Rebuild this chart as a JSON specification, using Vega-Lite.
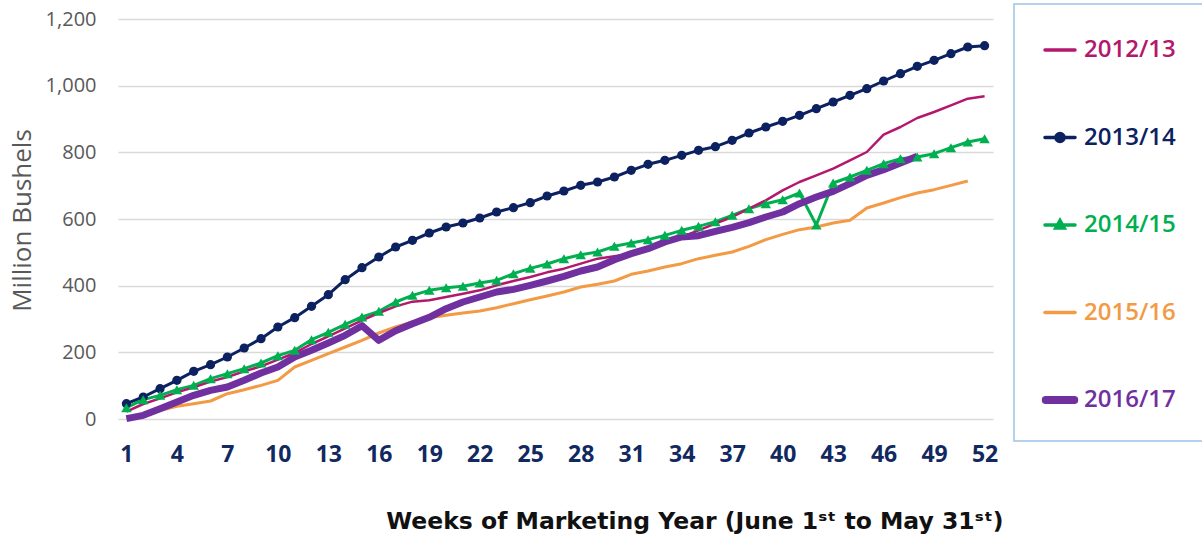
{
  "$schema": "https://vega.github.io/schema/vega-lite/v6.json",
  "width": 875,
  "height": 400,
  "autosize": {"type": "none"},
  "padding": {"left": 118, "top": 19, "right": 209, "bottom": 120},
  "background": "white",
  "config": {"view": {"stroke": null}},
  "datasets": {
    "exports": [
      {"w":1,"s":"2012/13","v":22},{"w":2,"s":"2012/13","v":45},{"w":3,"s":"2012/13","v":62},{"w":4,"s":"2012/13","v":80},{"w":5,"s":"2012/13","v":95},{"w":6,"s":"2012/13","v":112},{"w":7,"s":"2012/13","v":126},{"w":8,"s":"2012/13","v":143},{"w":9,"s":"2012/13","v":158},{"w":10,"s":"2012/13","v":178},{"w":11,"s":"2012/13","v":198},{"w":12,"s":"2012/13","v":225},{"w":13,"s":"2012/13","v":248},{"w":14,"s":"2012/13","v":272},{"w":15,"s":"2012/13","v":296},{"w":16,"s":"2012/13","v":318},{"w":17,"s":"2012/13","v":338},{"w":18,"s":"2012/13","v":352},{"w":19,"s":"2012/13","v":356},{"w":20,"s":"2012/13","v":366},{"w":21,"s":"2012/13","v":376},{"w":22,"s":"2012/13","v":386},{"w":23,"s":"2012/13","v":401},{"w":24,"s":"2012/13","v":414},{"w":25,"s":"2012/13","v":426},{"w":26,"s":"2012/13","v":440},{"w":27,"s":"2012/13","v":451},{"w":28,"s":"2012/13","v":466},{"w":29,"s":"2012/13","v":481},{"w":30,"s":"2012/13","v":488},{"w":31,"s":"2012/13","v":496},{"w":32,"s":"2012/13","v":512},{"w":33,"s":"2012/13","v":528},{"w":34,"s":"2012/13","v":546},{"w":35,"s":"2012/13","v":566},{"w":36,"s":"2012/13","v":586},{"w":37,"s":"2012/13","v":606},{"w":38,"s":"2012/13","v":631},{"w":39,"s":"2012/13","v":656},{"w":40,"s":"2012/13","v":686},{"w":41,"s":"2012/13","v":711},{"w":42,"s":"2012/13","v":731},{"w":43,"s":"2012/13","v":751},{"w":44,"s":"2012/13","v":776},{"w":45,"s":"2012/13","v":801},{"w":46,"s":"2012/13","v":853},{"w":47,"s":"2012/13","v":876},{"w":48,"s":"2012/13","v":903},{"w":49,"s":"2012/13","v":921},{"w":50,"s":"2012/13","v":941},{"w":51,"s":"2012/13","v":961},{"w":52,"s":"2012/13","v":968},
      {"w":1,"s":"2013/14","v":46},{"w":2,"s":"2013/14","v":66},{"w":3,"s":"2013/14","v":91},{"w":4,"s":"2013/14","v":116},{"w":5,"s":"2013/14","v":143},{"w":6,"s":"2013/14","v":163},{"w":7,"s":"2013/14","v":186},{"w":8,"s":"2013/14","v":213},{"w":9,"s":"2013/14","v":241},{"w":10,"s":"2013/14","v":276},{"w":11,"s":"2013/14","v":304},{"w":12,"s":"2013/14","v":338},{"w":13,"s":"2013/14","v":373},{"w":14,"s":"2013/14","v":418},{"w":15,"s":"2013/14","v":454},{"w":16,"s":"2013/14","v":486},{"w":17,"s":"2013/14","v":516},{"w":18,"s":"2013/14","v":536},{"w":19,"s":"2013/14","v":558},{"w":20,"s":"2013/14","v":576},{"w":21,"s":"2013/14","v":588},{"w":22,"s":"2013/14","v":603},{"w":23,"s":"2013/14","v":621},{"w":24,"s":"2013/14","v":634},{"w":25,"s":"2013/14","v":649},{"w":26,"s":"2013/14","v":669},{"w":27,"s":"2013/14","v":684},{"w":28,"s":"2013/14","v":701},{"w":29,"s":"2013/14","v":711},{"w":30,"s":"2013/14","v":726},{"w":31,"s":"2013/14","v":746},{"w":32,"s":"2013/14","v":764},{"w":33,"s":"2013/14","v":776},{"w":34,"s":"2013/14","v":791},{"w":35,"s":"2013/14","v":806},{"w":36,"s":"2013/14","v":817},{"w":37,"s":"2013/14","v":836},{"w":38,"s":"2013/14","v":858},{"w":39,"s":"2013/14","v":876},{"w":40,"s":"2013/14","v":893},{"w":41,"s":"2013/14","v":911},{"w":42,"s":"2013/14","v":931},{"w":43,"s":"2013/14","v":951},{"w":44,"s":"2013/14","v":971},{"w":45,"s":"2013/14","v":991},{"w":46,"s":"2013/14","v":1014},{"w":47,"s":"2013/14","v":1036},{"w":48,"s":"2013/14","v":1058},{"w":49,"s":"2013/14","v":1076},{"w":50,"s":"2013/14","v":1096},{"w":51,"s":"2013/14","v":1116},{"w":52,"s":"2013/14","v":1120},
      {"w":1,"s":"2014/15","v":34},{"w":2,"s":"2014/15","v":58},{"w":3,"s":"2014/15","v":71},{"w":4,"s":"2014/15","v":88},{"w":5,"s":"2014/15","v":101},{"w":6,"s":"2014/15","v":121},{"w":7,"s":"2014/15","v":136},{"w":8,"s":"2014/15","v":151},{"w":9,"s":"2014/15","v":168},{"w":10,"s":"2014/15","v":190},{"w":11,"s":"2014/15","v":206},{"w":12,"s":"2014/15","v":238},{"w":13,"s":"2014/15","v":260},{"w":14,"s":"2014/15","v":284},{"w":15,"s":"2014/15","v":306},{"w":16,"s":"2014/15","v":323},{"w":17,"s":"2014/15","v":351},{"w":18,"s":"2014/15","v":371},{"w":19,"s":"2014/15","v":386},{"w":20,"s":"2014/15","v":394},{"w":21,"s":"2014/15","v":398},{"w":22,"s":"2014/15","v":408},{"w":23,"s":"2014/15","v":416},{"w":24,"s":"2014/15","v":436},{"w":25,"s":"2014/15","v":452},{"w":26,"s":"2014/15","v":465},{"w":27,"s":"2014/15","v":481},{"w":28,"s":"2014/15","v":493},{"w":29,"s":"2014/15","v":501},{"w":30,"s":"2014/15","v":518},{"w":31,"s":"2014/15","v":528},{"w":32,"s":"2014/15","v":538},{"w":33,"s":"2014/15","v":551},{"w":34,"s":"2014/15","v":566},{"w":35,"s":"2014/15","v":578},{"w":36,"s":"2014/15","v":592},{"w":37,"s":"2014/15","v":611},{"w":38,"s":"2014/15","v":631},{"w":39,"s":"2014/15","v":646},{"w":40,"s":"2014/15","v":658},{"w":41,"s":"2014/15","v":678},{"w":42,"s":"2014/15","v":582},{"w":43,"s":"2014/15","v":708},{"w":44,"s":"2014/15","v":726},{"w":45,"s":"2014/15","v":746},{"w":46,"s":"2014/15","v":766},{"w":47,"s":"2014/15","v":781},{"w":48,"s":"2014/15","v":786},{"w":49,"s":"2014/15","v":796},{"w":50,"s":"2014/15","v":814},{"w":51,"s":"2014/15","v":831},{"w":52,"s":"2014/15","v":841},
      {"w":1,"s":"2015/16","v":5},{"w":2,"s":"2015/16","v":11},{"w":3,"s":"2015/16","v":25},{"w":4,"s":"2015/16","v":38},{"w":5,"s":"2015/16","v":46},{"w":6,"s":"2015/16","v":54},{"w":7,"s":"2015/16","v":76},{"w":8,"s":"2015/16","v":88},{"w":9,"s":"2015/16","v":101},{"w":10,"s":"2015/16","v":116},{"w":11,"s":"2015/16","v":156},{"w":12,"s":"2015/16","v":176},{"w":13,"s":"2015/16","v":196},{"w":14,"s":"2015/16","v":216},{"w":15,"s":"2015/16","v":236},{"w":16,"s":"2015/16","v":258},{"w":17,"s":"2015/16","v":276},{"w":18,"s":"2015/16","v":291},{"w":19,"s":"2015/16","v":304},{"w":20,"s":"2015/16","v":311},{"w":21,"s":"2015/16","v":318},{"w":22,"s":"2015/16","v":324},{"w":23,"s":"2015/16","v":334},{"w":24,"s":"2015/16","v":346},{"w":25,"s":"2015/16","v":358},{"w":26,"s":"2015/16","v":369},{"w":27,"s":"2015/16","v":381},{"w":28,"s":"2015/16","v":396},{"w":29,"s":"2015/16","v":404},{"w":30,"s":"2015/16","v":414},{"w":31,"s":"2015/16","v":434},{"w":32,"s":"2015/16","v":444},{"w":33,"s":"2015/16","v":456},{"w":34,"s":"2015/16","v":466},{"w":35,"s":"2015/16","v":481},{"w":36,"s":"2015/16","v":491},{"w":37,"s":"2015/16","v":501},{"w":38,"s":"2015/16","v":518},{"w":39,"s":"2015/16","v":538},{"w":40,"s":"2015/16","v":554},{"w":41,"s":"2015/16","v":568},{"w":42,"s":"2015/16","v":576},{"w":43,"s":"2015/16","v":588},{"w":44,"s":"2015/16","v":596},{"w":45,"s":"2015/16","v":633},{"w":46,"s":"2015/16","v":648},{"w":47,"s":"2015/16","v":664},{"w":48,"s":"2015/16","v":678},{"w":49,"s":"2015/16","v":688},{"w":50,"s":"2015/16","v":701},{"w":51,"s":"2015/16","v":714},
      {"w":1,"s":"2016/17","v":1},{"w":2,"s":"2016/17","v":11},{"w":3,"s":"2016/17","v":31},{"w":4,"s":"2016/17","v":51},{"w":5,"s":"2016/17","v":71},{"w":6,"s":"2016/17","v":86},{"w":7,"s":"2016/17","v":96},{"w":8,"s":"2016/17","v":116},{"w":9,"s":"2016/17","v":138},{"w":10,"s":"2016/17","v":156},{"w":11,"s":"2016/17","v":186},{"w":12,"s":"2016/17","v":206},{"w":13,"s":"2016/17","v":228},{"w":14,"s":"2016/17","v":251},{"w":15,"s":"2016/17","v":280},{"w":16,"s":"2016/17","v":236},{"w":17,"s":"2016/17","v":265},{"w":18,"s":"2016/17","v":286},{"w":19,"s":"2016/17","v":305},{"w":20,"s":"2016/17","v":331},{"w":21,"s":"2016/17","v":351},{"w":22,"s":"2016/17","v":366},{"w":23,"s":"2016/17","v":381},{"w":24,"s":"2016/17","v":389},{"w":25,"s":"2016/17","v":401},{"w":26,"s":"2016/17","v":414},{"w":27,"s":"2016/17","v":428},{"w":28,"s":"2016/17","v":444},{"w":29,"s":"2016/17","v":456},{"w":30,"s":"2016/17","v":478},{"w":31,"s":"2016/17","v":496},{"w":32,"s":"2016/17","v":511},{"w":33,"s":"2016/17","v":531},{"w":34,"s":"2016/17","v":546},{"w":35,"s":"2016/17","v":550},{"w":36,"s":"2016/17","v":563},{"w":37,"s":"2016/17","v":575},{"w":38,"s":"2016/17","v":589},{"w":39,"s":"2016/17","v":606},{"w":40,"s":"2016/17","v":621},{"w":41,"s":"2016/17","v":646},{"w":42,"s":"2016/17","v":666},{"w":43,"s":"2016/17","v":683},{"w":44,"s":"2016/17","v":706},{"w":45,"s":"2016/17","v":731},{"w":46,"s":"2016/17","v":748},{"w":47,"s":"2016/17","v":768},{"w":48,"s":"2016/17","v":788}
    ]
  },
  "data": {"name": "exports"},
  "encoding": {
    "x": {
      "field": "w", "type": "quantitative",
      "scale": {"domain": [0.5, 52.5], "nice": false, "zero": false},
      "axis": {
        "values": [1,4,7,10,13,16,19,22,25,28,31,34,37,40,43,46,49,52],
        "grid": false, "domain": false, "ticks": false,
        "labelFont": "Open Sans", "labelFontSize": 23, "labelFontWeight": "bold",
        "labelColor": "#12295F", "labelPadding": 24,
        "title": "Weeks of Marketing Year (June 1ˢᵗ to May 31ˢᵗ)",
        "titleFont": "DejaVu Sans", "titleFontSize": 23.5, "titleFontWeight": "bold",
        "titleColor": "#111111", "titleX": 885, "titleY": 109,
        "titleAlign": "right", "titleAnchor": "end", "titleBaseline": "alphabetic"
      }
    },
    "y": {
      "field": "v", "type": "quantitative",
      "scale": {"domain": [0, 1200], "nice": false},
      "axis": {
        "values": [0,200,400,600,800,1000,1200],
        "format": ",.0f",
        "grid": true, "gridColor": "#D9D9D9", "gridWidth": 1.5,
        "domain": false, "ticks": false,
        "labelFont": "Open Sans", "labelFontSize": 20, "labelColor": "#595959", "labelPadding": 22,
        "title": "Million Bushels",
        "titleFont": "Open Sans", "titleFontSize": 26, "titleFontWeight": "normal",
        "titleColor": "#595959", "titleX": -96, "titleY": 201,
        "titleAlign": "center", "titleBaseline": "middle", "titleAngle": -90
      }
    },
    "color": {
      "field": "s", "type": "nominal",
      "scale": {
        "domain": ["2012/13","2013/14","2014/15","2015/16","2016/17"],
        "range": ["#B3186D","#0B2160","#00B050","#F29A44","#7030A0"]
      },
      "legend": {
        "orient": "none", "legendX": 896, "legendY": -15,
        "title": null, "padding": 29, "rowPadding": 58.5,
        "strokeColor": "#9DC3E6",
        "symbolSize": 900, "symbolType": "stroke", "symbolStrokeWidth": 3.5,
        "labelFont": "Open Sans", "labelFontSize": 24, "labelFontWeight": 600,
        "labelOffset": 7, "labelBaseline": "middle",
        "encode": {
          "legend": {"update": {"strokeWidth": {"value": 1.5}}},
          "symbols": {
            "update": {
              "shape": {"signal": "datum.value === '2013/14' ? 'M-1,0H1M-0.27,0A0.27,0.27 0 1,1 0.27,0A0.27,0.27 0 1,1 -0.27,0Z' : datum.value === '2014/15' ? 'M-1,0H1M0,-0.3L0.28,0.2L-0.28,0.2Z' : datum.value === '2016/17' ? 'M-0.95,-0.15H0.95A0.15,0.15 0 0,1 0.95,0.15H-0.95A0.15,0.15 0 0,1 -0.95,-0.15Z' : 'M-1,0H1'"},
              "fill": {"scale": "color", "field": "value"},
              "fillOpacity": {"value": 1},
              "stroke": {"scale": "color", "field": "value"},
              "strokeCap": {"value": "round"},
              "opacity": {"value": 1}
            }
          },
          "labels": {
            "update": {
              "fill": {"scale": "color", "field": "value"}
            }
          }
        }
      }
    }
  },
  "layer": [
    {
      "transform": [{"filter": {"field": "s", "oneOf": ["2013/14", "2014/15", "2015/16"]}}],
      "mark": {"type": "line", "strokeJoin": "round", "strokeWidth": 3}
    },
    {
      "transform": [{"filter": {"field": "s", "equal": "2012/13"}}],
      "mark": {"type": "line", "strokeJoin": "round", "strokeWidth": 2.5}
    },
    {
      "transform": [{"filter": {"field": "s", "equal": "2016/17"}}],
      "mark": {"type": "line", "strokeJoin": "round", "strokeWidth": 7}
    },
    {
      "transform": [{"filter": {"field": "s", "oneOf": ["2013/14", "2014/15"]}}],
      "mark": {"type": "point", "filled": true, "opacity": 1},
      "encoding": {
        "shape": {
          "field": "s", "type": "nominal",
          "scale": {"domain": ["2013/14", "2014/15"], "range": ["circle", "triangle-up"]},
          "legend": null
        },
        "size": {
          "field": "s", "type": "nominal",
          "scale": {"domain": ["2013/14", "2014/15"], "range": [85, 110]},
          "legend": null
        }
      }
    }
  ]
}
